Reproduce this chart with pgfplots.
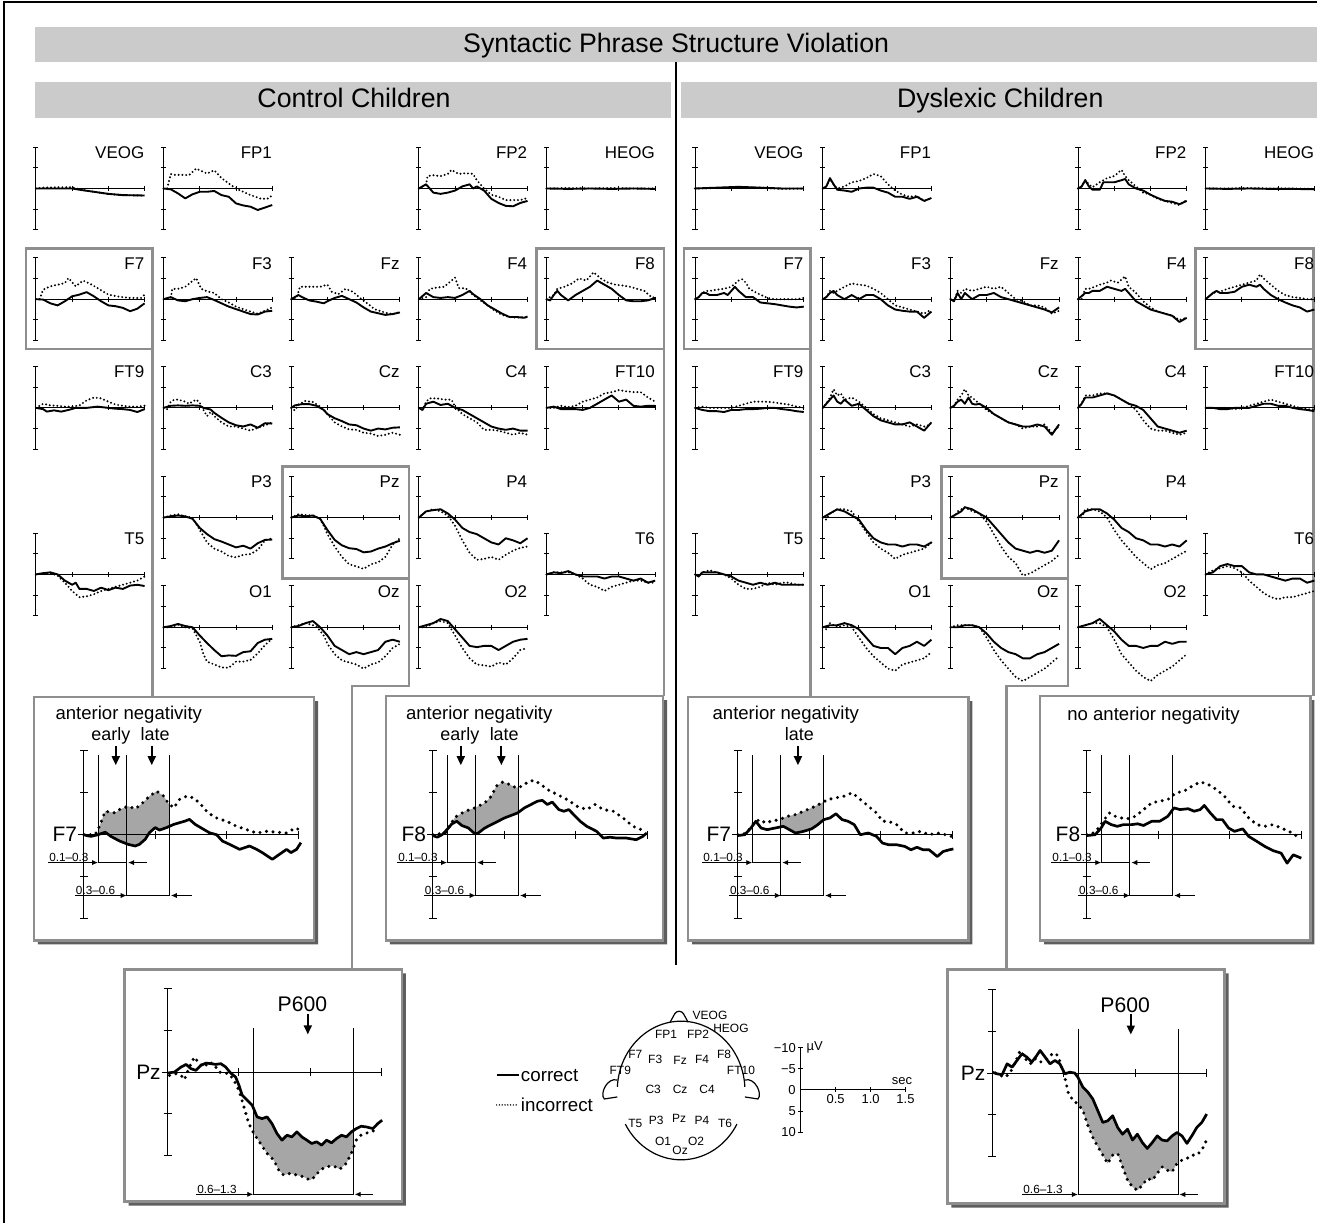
\documentclass[border=0pt]{standalone}
\usepackage{fontspec}
\setmainfont{Liberation Sans}
\usepackage{pgfplots}
\pgfplotsset{compat=1.18}
\usepgfplotslibrary{fillbetween}
\usetikzlibrary{arrows.meta}

\definecolor{boxgray}{HTML}{8E8E8E}
\definecolor{bargray}{HTML}{CBCBCB}
\definecolor{shadowgray}{HTML}{5E5E5E}
\definecolor{fillgray}{HTML}{A6A6A6}
\newcommand{\fs}[1]{\fontsize{#1}{#1}\selectfont}

\pgfplotsset{
 erp/.style={scale only axis, ymin=-10, ymax=10, y dir=reverse,
   axis lines=middle, axis line style={-, line width=0.5pt, black},
   xtick={0.5,1,1.5}, ytick={-10,-5,0,5,10}, xticklabels={}, yticklabels={},
   tick align=center, tick style={line width=0.5pt, black}, clip=false, anchor=origin},
 small/.style={erp, xmin=0, xmax=1.5, width=54.5pt, height=41.5pt, major tick length=2.6pt},
 medium/.style={erp, xmin=-0.04, xmax=1.5, width=110.3pt, height=84pt, major tick length=4pt, set layers},
 sol/.style={black, mark=none, line width=0.95pt, line join=round},
 dot/.style={black, mark=none, line width=1.1pt, line cap=round, dash pattern=on 0pt off 1.9pt},
 msol/.style={black, mark=none, line width=1.35pt, line join=round},
 mdot/.style={black, mark=none, line width=1.7pt, line cap=round, dash pattern=on 0pt off 3.3pt},
}
\tikzset{
 arr/.style={-{Latex[length=3pt,width=2.6pt]}, line width=0.45pt},
 darr/.style={-{Triangle[length=4.5pt,width=4pt]}, line width=0.9pt},
 lab/.style={anchor=south west, inner sep=0.4pt, font=\fs{5.9}},
}

\newcommand{\smallpanel}[5]{%
 \begin{axis}[small, at={(#1*0.5pt,-#2*0.5pt)}]
 \addplot[dot] coordinates {#5};
 \addplot[sol] coordinates {#4};
 \node[anchor=north east, inner sep=0pt, font=\fs{8.5}] at (axis cs:1.5,-10.2) {#3};
 \end{axis}}

\newcommand{\windows}{%
 \draw[line width=0.45pt] (axis cs:0.1,-9.5) -- (axis cs:0.1,3.33) -- (axis cs:0.3,3.33);
 \draw[line width=0.45pt] (axis cs:0.3,-9.5) -- (axis cs:0.3,7.26) -- (axis cs:0.6,7.26) -- (axis cs:0.6,-9.5);
 \draw[arr] (axis cs:-0.25,3.33) -- (axis cs:0.1,3.33);
 \node[lab] at (axis cs:-0.25,3.33) {0.1–0.3};
 \draw[arr] (axis cs:0.44,3.33) -- (axis cs:0.31,3.33);
 \draw[arr] (axis cs:-0.063,7.26) -- (axis cs:0.3,7.26);
 \node[lab] at (axis cs:-0.063,7.26) {0.3–0.6};
 \draw[arr] (axis cs:0.755,7.26) -- (axis cs:0.61,7.26);
}
\newcommand{\panelbox}[4]{%
 \fill[shadowgray] (#3,{#2+4}) -- ({#3+4},{#2+4}) -- ({#3+4},{#4+4}) -- ({#1+4},{#4+4}) -- ({#1+4},#4) -- (#3,#4) -- cycle;
 \draw[boxgray, line width=1.3pt] (#1,#2) rectangle (#3,#4);}

\begin{document}
\begin{tikzpicture}
\path (0pt,0pt) rectangle (660.5pt,-613pt);
\begin{scope}[x=0.5pt,y=-0.5pt]
 \draw[line width=1.4pt] (4,1226) -- (4,2) -- (1321,2);
 \fill[bargray] (35,27) rectangle (1321,62);
 \node[font=\fs{13.4}, anchor=base] at (678,53) {Syntactic Phrase Structure Violation};
 \fill[bargray] (35,82) rectangle (673,118);
 \node[font=\fs{13.4}, anchor=base] at (355,108) {Control Children};
 \fill[bargray] (683,82) rectangle (1321,118);
 \node[font=\fs{13.4}, anchor=base] at (1003,108) {Dyslexic Children};
 \draw[line width=1pt] (678,62) -- (678,968);
 % highlight boxes and connectors
 \draw[boxgray, line width=1.3pt] (153,699) -- (153,249) -- (26,249) -- (26,350) -- (153,350);
 \draw[boxgray, line width=1.3pt] (666,698) -- (666,249) -- (538,249) -- (538,350) -- (666,350);
 \draw[boxgray, line width=1.3pt] (283,468) rectangle (410,580);
 \draw[boxgray, line width=1.3pt] (410,580) -- (410,688) -- (353,688) -- (353,972);
 \draw[boxgray, line width=1.3pt] (813,699) -- (813,249) -- (686,249) -- (686,350) -- (813,350);
 \draw[boxgray, line width=1.3pt] (1317,698) -- (1317,249) -- (1199,249) -- (1199,350) -- (1317,350);
 \draw[boxgray, line width=1.3pt] (944,468) rectangle (1071,580);
 \draw[boxgray, line width=1.3pt] (1071,580) -- (1071,688) -- (1009,688) -- (1009,972);
 \panelbox{34}{699}{315}{943}
 \panelbox{387}{698}{665}{943}
 \panelbox{690}{699}{971}{943}
 \panelbox{1043}{698}{1314}{943}
 \panelbox{125}{972}{403}{1205}
 \panelbox{950}{972}{1228}{1207}
 % legend
 \draw[line width=0.8pt] (498,1078) -- (520,1078);
 \node[anchor=west, inner sep=1pt, font=\fs{9.4}] at (520,1078) {correct};
 \draw[line width=0.8pt, line cap=round, dash pattern=on 0pt off 1.4pt] (498,1108) -- (520,1108);
 \node[anchor=west, inner sep=1pt, font=\fs{9.4}] at (520,1108) {incorrect};
 % head
 \draw[line width=0.6pt] (683,1093.5) ++(29:64 and 69.5) arc[start angle=29, end angle=151, x radius=64, y radius=69.5];
 \draw[line width=0.6pt] (683,1093.5) ++(183:64 and 69.5) arc[start angle=183, end angle=357, x radius=64, y radius=69.5];
 \draw[line width=0.6pt, rounded corners=1.5pt] (672,1025) -- (678,1014) -- (684,1014) -- (690,1025);
 \draw[line width=0.6pt] (619,1083) .. controls (609,1080) and (601,1097) .. (606,1102) -- (619,1100);
 \draw[line width=0.6pt] (747,1083) .. controls (757,1080) and (765,1097) .. (760,1102) -- (747,1100);
 \begin{scope}[every node/.style={font=\fs{6}, inner sep=0pt}]
 \node at (712,1018) {VEOG}; \node at (733,1031) {HEOG};
 \node at (668,1037) {FP1}; \node at (700,1037) {FP2};
 \node at (637,1057) {F7}; \node at (657,1062) {F3}; \node at (682,1063) {Fz};
 \node at (704,1062) {F4}; \node at (726,1057) {F8};
 \node at (622,1073) {FT9}; \node at (743,1073) {FT10};
 \node at (655,1092) {C3}; \node at (682,1092) {Cz}; \node at (709,1092) {C4};
 \node at (637,1127) {T5}; \node at (658,1123) {P3}; \node at (681,1121) {Pz};
 \node at (704,1123) {P4}; \node at (727,1126) {T6};
 \node at (665,1145) {O1}; \node at (698,1145) {O2}; \node at (682,1154) {Oz};
 \end{scope}
\end{scope}

% ---------------- scale bar
\begin{axis}[scale only axis, at={(803*0.5pt,-1093*0.5pt)}, anchor=origin, width=52.5pt, height=42.5pt,
  xmin=0, xmax=1.5, ymin=-10, ymax=10, y dir=reverse, axis lines=middle, axis line style={-, line width=0.5pt},
  xtick={0.5,1,1.5}, xticklabels={0.5,1.0,1.5}, ytick={-10,-5,0,5,10}, yticklabels={−10,−5,0,5,10},
  tick align=center, major tick length=2.5pt, tick style={black, line width=0.5pt},
  ticklabel style={font=\fs{6.5}, inner sep=1pt}, clip=false]
\addplot[draw=none] coordinates {(0,0)};
\node[anchor=east, font=\fs{6.5}, inner sep=1pt] at (axis cs:-0.04,0) {0};
\node[anchor=west, font=\fs{6.5}, inner sep=1pt] at (axis cs:0.05,-10) {µV};
\node[anchor=south, font=\fs{6.5}, inner sep=1pt] at (axis cs:1.45,-0.8) {sec};
\end{axis}

% ---------------- Control small panels
\smallpanel{36}{189}{VEOG}{(0,0)(0.3,0)(0.5,0)(0.6,0.3)(0.8,0.8)(1.0,1.3)(1.2,1.6)(1.5,1.7)}{(0,0)(0.1,-0.2)(0.3,-0.3)(0.5,-0.3)(0.6,0.2)(0.8,0.8)(1.0,1.3)(1.2,1.6)(1.5,1.7)}
\smallpanel{164}{189}{FP1}{(0,0)(0.1,0.2)(0.2,1.2)(0.3,2.4)(0.4,1.4)(0.5,0.8)(0.6,0.8)(0.7,0.6)(0.8,1.6)(0.9,2.0)(1.0,3.6)(1.1,4.1)(1.2,4.4)(1.3,5.2)(1.4,4.6)(1.5,4.0)}{(0,0)(0.05,0)(0.1,-3.5)(0.15,-3.3)(0.25,-3.3)(0.35,-3.2)(0.45,-4.8)(0.5,-4.4)(0.6,-3.6)(0.7,-4.4)(0.8,-2.5)(0.9,-1.2)(1.0,0)(1.1,0.8)(1.2,1.6)(1.35,2.5)(1.45,2.4)(1.5,1.6)}
\smallpanel{420}{189}{FP2}{(0,0)(0.1,-1.0)(0.15,0)(0.2,1.0)(0.3,1.3)(0.4,1.0)(0.5,0.5)(0.6,-0.5)(0.7,-1.0)(0.75,0)(0.8,-0.5)(0.9,0.5)(1.0,2.5)(1.1,3.5)(1.2,4.2)(1.3,4.3)(1.4,3.5)(1.5,3.0)}{(0,0)(0.1,-1.0)(0.12,-3.0)(0.2,-3.2)(0.3,-3.0)(0.4,-3.5)(0.45,-4.5)(0.55,-3.5)(0.65,-3.7)(0.75,-3.5)(0.8,-2.0)(0.9,0)(1.0,1.5)(1.1,2.0)(1.2,2.8)(1.3,2.8)(1.4,2.8)(1.5,2.3)}
\smallpanel{548}{189}{HEOG}{(0,0)(0.3,0.1)(0.6,0)(0.9,0.1)(1.2,0)(1.5,0.1)}{(0,0)(0.3,-0.1)(0.6,0)(0.9,-0.1)(1.2,0)(1.5,0)}
\smallpanel{36}{300}{F7}{(0,0)(0.1,0.1)(0.2,1.0)(0.3,1.5)(0.4,0.5)(0.5,-0.7)(0.6,-1.1)(0.7,-1.7)(0.8,-0.7)(0.9,0.5)(1.0,1.5)(1.1,1.7)(1.2,2.1)(1.3,2.9)(1.4,2.3)(1.5,1.0)}{(0,0)(0.05,0)(0.1,-2.3)(0.2,-3.1)(0.3,-3.5)(0.4,-3.9)(0.45,-5.1)(0.55,-3.1)(0.65,-4.5)(0.75,-3.7)(0.85,-2.7)(1.0,-1.1)(1.15,-0.6)(1.3,-0.3)(1.45,-0.3)(1.5,-1.1)}
\smallpanel{164}{300}{F3}{(0,0)(0.1,-0.5)(0.2,0.3)(0.3,0.5)(0.4,0)(0.5,-0.3)(0.6,-0.5)(0.7,0.2)(0.8,1.0)(0.9,1.8)(1.0,2.4)(1.1,3.0)(1.2,3.6)(1.3,3.7)(1.4,3.0)(1.5,2.8)}{(0,0)(0.1,-0.3)(0.12,-2.5)(0.2,-2.5)(0.3,-3.0)(0.45,-5.1)(0.52,-2.5)(0.6,-1.9)(0.7,-1.5)(0.8,0)(0.9,0.8)(1.0,1.8)(1.1,2.4)(1.2,3.0)(1.3,3.5)(1.4,2.8)(1.5,2.0)}
\smallpanel{292}{300}{Fz}{(0,0)(0.1,-1.0)(0.15,-0.5)(0.25,0.3)(0.35,0.6)(0.45,1.0)(0.5,0.5)(0.6,-0.3)(0.7,-0.8)(0.8,0)(0.9,0.8)(1.0,2.0)(1.1,3.0)(1.2,3.4)(1.3,3.8)(1.4,3.6)(1.5,3.2)}{(0,0)(0.08,-0.5)(0.12,-3.0)(0.2,-3.0)(0.3,-3.0)(0.4,-3.0)(0.5,-3.5)(0.56,-1.8)(0.65,-1.2)(0.75,-2.5)(0.85,-1.8)(0.95,-0.3)(1.05,1.0)(1.15,2.4)(1.25,3.0)(1.35,3.5)(1.45,3.5)(1.5,3.0)}
\smallpanel{420}{300}{F4}{(0,0)(0.1,-1.5)(0.2,-0.5)(0.3,-0.3)(0.4,-0.5)(0.5,-0.3)(0.6,-1.0)(0.7,-2.0)(0.75,-1.2)(0.85,0)(0.95,1.5)(1.05,2.5)(1.15,3.5)(1.25,4.3)(1.35,4.3)(1.45,4.5)(1.5,4.2)}{(0,0)(0.1,-0.5)(0.15,-2.5)(0.25,-2.8)(0.35,-3.0)(0.5,-5.2)(0.55,-2.7)(0.65,-2.6)(0.75,-1.0)(0.85,0.3)(0.95,1.5)(1.05,2.8)(1.15,3.8)(1.25,4.3)(1.35,4.5)(1.45,4.3)(1.5,4.5)}
\smallpanel{548}{300}{F8}{(0,0)(0.05,0.3)(0.1,-1.0)(0.15,-2.0)(0.2,-1.0)(0.3,0.3)(0.4,-1.0)(0.5,-2.0)(0.6,-3.0)(0.7,-4.5)(0.8,-3.5)(0.9,-2.5)(1.0,-1.0)(1.1,0.3)(1.2,0.5)(1.3,0.5)(1.4,0.3)(1.5,-0.3)}{(0,0)(0.1,-1.0)(0.15,-2.5)(0.25,-3.0)(0.35,-3.8)(0.45,-5.0)(0.55,-4.5)(0.65,-6.5)(0.75,-5.0)(0.85,-4.0)(0.95,-3.5)(1.05,-3.3)(1.15,-3.0)(1.25,-2.5)(1.35,-2.0)(1.45,-0.5)(1.5,-0.3)}
\smallpanel{36}{409}{FT9}{(0,0)(0.1,0.3)(0.15,0.9)(0.25,0.6)(0.35,0.9)(0.45,0.5)(0.55,0)(0.7,0)(0.85,-0.3)(1.0,0)(1.1,0.2)(1.2,0.3)(1.3,0.5)(1.4,1.0)(1.5,0.3)}{(0,0)(0.1,-1.0)(0.2,-0.6)(0.3,-0.5)(0.4,-0.3)(0.5,-0.3)(0.6,-0.6)(0.7,-1.8)(0.8,-2.5)(0.9,-2.3)(1.0,-1.5)(1.1,-0.8)(1.2,-0.5)(1.3,-0.3)(1.4,-0.3)(1.5,-0.5)}
\smallpanel{164}{409}{C3}{(0,0)(0.1,-0.5)(0.2,-0.6)(0.3,-0.5)(0.4,-0.6)(0.5,-0.5)(0.55,0)(0.65,0.4)(0.7,1.2)(0.8,2.4)(0.9,3.5)(1.0,4.2)(1.1,4.5)(1.2,4.0)(1.3,4.8)(1.4,3.7)(1.5,3.8)}{(0,0)(0.05,0.3)(0.1,-1.5)(0.15,-2.0)(0.2,-2.0)(0.3,-1.5)(0.35,-1.0)(0.45,-2.0)(0.5,-1.2)(0.55,0.5)(0.6,2.0)(0.65,1.0)(0.7,2.0)(0.8,3.5)(0.9,4.5)(1.0,4.5)(1.1,5.0)(1.2,5.5)(1.3,4.8)(1.4,4.2)(1.5,3.5)}
\smallpanel{292}{409}{Cz}{(0,0)(0.05,-0.6)(0.15,-0.9)(0.25,-0.9)(0.35,-0.5)(0.45,0.5)(0.5,1.5)(0.6,2.5)(0.7,3.2)(0.8,4.0)(0.9,4.2)(1.0,5.0)(1.1,5.5)(1.2,5.0)(1.3,5.2)(1.4,4.8)(1.5,4.7)}{(0,0)(0.05,0.6)(0.1,-0.8)(0.2,-1.7)(0.3,-1.4)(0.4,-0.3)(0.5,1.5)(0.6,3.5)(0.7,4.5)(0.8,5.2)(0.9,5.3)(1.0,6.0)(1.1,6.2)(1.2,6.8)(1.3,6.5)(1.4,6.0)(1.5,6.5)}
\smallpanel{420}{409}{C4}{(0,0)(0.05,0.5)(0.1,-1.0)(0.2,-1.5)(0.3,-0.7)(0.4,-1.0)(0.5,0)(0.6,0.5)(0.7,1.5)(0.8,2.5)(0.9,3.5)(1.0,4.5)(1.1,5.0)(1.2,5.3)(1.3,5.0)(1.4,5.5)(1.5,5.5)}{(0,0)(0.05,0.5)(0.1,-1.5)(0.15,-2.3)(0.25,-2.3)(0.35,-2.0)(0.45,-2.0)(0.5,-0.3)(0.6,1.5)(0.7,2.5)(0.8,3.5)(0.9,5.3)(1.0,5.3)(1.1,5.5)(1.2,6.0)(1.3,6.5)(1.4,6.0)(1.5,6.5)}
\smallpanel{548}{409}{FT10}{(0,0)(0.1,-0.3)(0.2,0.3)(0.3,0.3)(0.4,0.3)(0.5,0.5)(0.6,0)(0.7,-1.0)(0.8,-2.0)(0.9,-3.0)(1.0,-1.5)(1.1,-2.0)(1.2,-0.5)(1.3,-0.3)(1.4,-0.5)(1.5,-0.5)}{(0,0)(0.1,0)(0.2,-0.5)(0.3,-0.2)(0.4,-0.5)(0.5,-1.5)(0.6,-2.0)(0.7,-2.5)(0.8,-3.5)(0.9,-3.8)(1.0,-4.3)(1.1,-4.0)(1.2,-3.8)(1.3,-3.8)(1.4,-2.5)(1.5,-1.5)}
\smallpanel{164}{519}{P3}{(0,0)(0.1,-0.3)(0.2,-0.5)(0.3,-0.3)(0.4,0.3)(0.5,2.5)(0.6,4.0)(0.7,5.2)(0.8,5.8)(0.9,6.5)(1.0,7.2)(1.1,6.8)(1.2,7.5)(1.3,6.2)(1.4,5.4)(1.5,5.3)}{(0,0)(0.1,-0.5)(0.2,-0.8)(0.3,-0.3)(0.4,0)(0.5,3.0)(0.6,6.0)(0.7,7.5)(0.8,8.2)(0.9,9.3)(1.0,9.6)(1.1,9.0)(1.2,8.8)(1.3,7.8)(1.4,5.5)(1.5,5.0)}
\smallpanel{292}{519}{Pz}{(0,0)(0.1,-0.5)(0.2,-0.3)(0.3,-0.5)(0.4,0.3)(0.5,3.0)(0.6,5.4)(0.7,6.7)(0.8,7.4)(0.9,7.6)(1.0,8.4)(1.1,8.2)(1.2,7.5)(1.3,7.0)(1.4,6.2)(1.5,5.6)}{(0,0)(0.1,-0.8)(0.2,-0.6)(0.3,-0.5)(0.4,0.3)(0.45,2.0)(0.5,4.0)(0.6,7.0)(0.7,9.5)(0.8,11.3)(0.9,11.8)(1.0,12.4)(1.1,11.3)(1.2,10.8)(1.3,9.5)(1.4,6.5)(1.5,5.0)}
\smallpanel{420}{519}{P4}{(0,0)(0.1,-1.5)(0.2,-1.8)(0.3,-2.0)(0.4,-1.0)(0.5,0.5)(0.6,2.5)(0.7,3.5)(0.8,4.0)(0.9,5.0)(1.0,6.0)(1.1,6.5)(1.2,5.0)(1.3,5.5)(1.4,6.2)(1.5,5.0)}{(0,0)(0.1,-1.5)(0.2,-2.0)(0.3,-1.5)(0.4,-0.5)(0.5,2.0)(0.6,5.5)(0.7,8.5)(0.8,10.2)(0.9,10.0)(1.0,9.5)(1.1,10.2)(1.2,9.0)(1.3,8.0)(1.4,7.3)(1.5,7.0)}
\smallpanel{36}{576}{T5}{(0,0)(0.1,-0.3)(0.2,-0.5)(0.3,0)(0.4,1.5)(0.5,2.5)(0.55,2.0)(0.6,3.5)(0.7,3.5)(0.8,4.0)(0.9,3.2)(1.0,3.8)(1.1,3.2)(1.2,3.5)(1.3,2.7)(1.4,2.5)(1.5,2.8)}{(0,0)(0.1,-0.3)(0.2,-0.3)(0.3,0.3)(0.4,2.0)(0.5,4.0)(0.6,5.5)(0.7,5.3)(0.8,4.8)(0.9,4.0)(1.0,3.5)(1.1,3.0)(1.2,2.5)(1.3,2.0)(1.4,1.5)(1.5,0.5)}
\smallpanel{548}{576}{T6}{(0,0)(0.1,-0.5)(0.2,-0.3)(0.3,-0.8)(0.4,0)(0.5,0.5)(0.6,0.5)(0.7,0.5)(0.8,1.0)(0.9,0.5)(1.0,0.5)(1.1,1.0)(1.2,1.5)(1.3,1.0)(1.4,2.0)(1.5,1.5)}{(0,0)(0.1,-0.5)(0.2,-0.5)(0.3,-0.5)(0.4,0)(0.5,1.0)(0.6,2.5)(0.7,3.0)(0.8,4.0)(0.9,3.0)(1.0,2.5)(1.1,2.0)(1.2,1.5)(1.3,1.5)(1.4,2.0)(1.5,2.0)}
\smallpanel{164}{629}{O1}{(0,0)(0.1,-0.3)(0.2,-0.8)(0.3,-0.3)(0.4,0)(0.5,2.0)(0.6,3.8)(0.7,5.5)(0.8,7.0)(0.9,6.8)(1.0,6.9)(1.1,6.0)(1.2,5.8)(1.3,3.8)(1.4,3.0)(1.5,2.8)}{(0,0)(0.1,0)(0.2,-0.6)(0.3,0)(0.4,0.3)(0.5,3.5)(0.55,6.5)(0.6,8.3)(0.7,9.0)(0.8,9.7)(0.9,9.8)(1.0,8.3)(1.1,8.3)(1.2,7.9)(1.3,6.3)(1.4,4.3)(1.5,2.7)}
\smallpanel{292}{629}{Oz}{(0,0)(0.1,-0.3)(0.2,-1.0)(0.3,-1.5)(0.4,0)(0.5,2.0)(0.6,4.5)(0.7,5.5)(0.8,6.5)(0.9,6.0)(1.0,6.5)(1.1,6.0)(1.2,5.5)(1.3,3.5)(1.4,3.0)(1.5,3.5)}{(0,0)(0.1,-0.5)(0.2,-1.0)(0.3,-0.5)(0.35,-0.2)(0.45,2.0)(0.5,4.0)(0.6,6.5)(0.7,8.0)(0.8,8.5)(0.9,9.0)(1.0,10.0)(1.1,9.0)(1.2,8.5)(1.3,7.0)(1.4,5.0)(1.5,4.0)}
\smallpanel{420}{629}{O2}{(0,0)(0.1,-0.5)(0.2,-1.0)(0.3,-2.0)(0.4,-1.5)(0.5,0.5)(0.6,2.5)(0.7,4.5)(0.8,4.8)(0.9,4.5)(1.0,4.5)(1.1,5.5)(1.2,4.5)(1.3,3.5)(1.4,3.0)(1.5,2.8)}{(0,0)(0.1,0)(0.2,-1.0)(0.3,-1.5)(0.4,-1.0)(0.5,2.0)(0.6,5.0)(0.7,7.5)(0.8,9.0)(0.9,9.2)(1.0,9.5)(1.1,8.5)(1.2,9.0)(1.3,7.5)(1.4,5.5)(1.5,5.0)}

% ---------------- Dyslexic small panels
\smallpanel{697}{189}{VEOG}{(0,0)(0.3,-0.2)(0.6,-0.4)(0.9,-0.2)(1.2,0)(1.5,0)}{(0,0)(0.3,-0.1)(0.6,-0.3)(0.9,-0.2)(1.2,0.1)(1.5,0)}
\smallpanel{825}{189}{FP1}{(0,0)(0.05,-0.5)(0.1,-2.5)(0.15,-1.0)(0.2,0.3)(0.3,0.5)(0.4,0.8)(0.5,0)(0.6,-0.2)(0.7,-0.2)(0.8,0.5)(0.9,1.0)(1.0,2.0)(1.1,2.0)(1.2,2.5)(1.3,2.0)(1.4,3.0)(1.5,2.3)}{(0,0)(0.05,-0.5)(0.1,-2.3)(0.15,-1.0)(0.2,0)(0.3,-0.5)(0.4,-1.5)(0.5,-1.8)(0.6,-2.5)(0.7,-3.5)(0.8,-3.0)(0.9,-1.0)(1.0,0.5)(1.1,1.5)(1.2,2.0)(1.3,1.8)(1.4,3.0)(1.5,2.3)}
\smallpanel{1081}{189}{FP2}{(0,0)(0.05,-0.5)(0.1,-2.0)(0.15,-0.5)(0.2,0.3)(0.3,0.3)(0.35,-1.5)(0.45,-1.5)(0.5,-1.5)(0.6,-2.0)(0.65,-2.3)(0.7,-1.0)(0.75,-0.5)(0.8,0)(0.9,0.5)(1.0,1.5)(1.1,2.3)(1.2,3.0)(1.3,3.2)(1.4,3.8)(1.5,3.0)}{(0,0)(0.05,-0.5)(0.1,-2.0)(0.15,-1.0)(0.2,-0.3)(0.3,-1.5)(0.4,-2.5)(0.5,-3.0)(0.6,-4.5)(0.65,-3.0)(0.7,-2.0)(0.8,-0.5)(0.9,1.0)(1.0,1.5)(1.1,2.5)(1.2,3.0)(1.3,3.5)(1.4,4.0)(1.5,2.8)}
\smallpanel{1209}{189}{HEOG}{(0,0)(0.3,0.1)(0.6,0)(0.9,0.1)(1.2,0.1)(1.5,0.2)}{(0,0)(0.3,0)(0.6,-0.1)(0.9,0)(1.2,0)(1.5,0.1)}
\smallpanel{697}{300}{F7}{(0,0)(0.05,-0.5)(0.1,-1.5)(0.15,-1.5)(0.2,-1.0)(0.3,-1.0)(0.4,-1.5)(0.45,-1.0)(0.5,-2.0)(0.55,-3.0)(0.6,-2.0)(0.7,-0.5)(0.8,-0.5)(0.9,0.8)(1.0,1.0)(1.1,1.2)(1.2,1.5)(1.3,1.8)(1.4,2.0)(1.5,1.8)}{(0,0)(0.05,-0.5)(0.1,-1.5)(0.15,-2.0)(0.2,-2.0)(0.3,-2.3)(0.4,-2.5)(0.5,-3.0)(0.6,-4.5)(0.65,-4.8)(0.7,-4.0)(0.75,-2.5)(0.85,-1.5)(1.0,-0.3)(1.1,0)(1.2,0)(1.3,0)(1.4,0)(1.5,-0.3)}
\smallpanel{825}{300}{F3}{(0,0)(0.05,-0.5)(0.1,-1.5)(0.15,-2.0)(0.2,-1.0)(0.3,0)(0.4,-1.0)(0.5,0)(0.6,-1.0)(0.7,-1.0)(0.8,0)(0.9,1.5)(1.0,2.5)(1.1,2.8)(1.2,3.0)(1.3,3.0)(1.4,4.5)(1.5,3.0)}{(0,0)(0.05,-0.5)(0.1,-2.0)(0.15,-1.5)(0.2,-2.0)(0.3,-3.0)(0.4,-3.8)(0.5,-3.5)(0.6,-3.3)(0.7,-2.5)(0.8,-1.5)(0.9,0)(1.0,1.5)(1.1,2.0)(1.2,2.5)(1.3,3.0)(1.4,3.5)(1.5,2.5)}
\smallpanel{953}{300}{Fz}{(0,0)(0.05,0.5)(0.1,-1.5)(0.15,0)(0.2,-1.5)(0.3,0)(0.4,-1.0)(0.5,-1.0)(0.6,-1.5)(0.7,-0.5)(0.8,0)(0.9,0.5)(1.0,1.0)(1.1,1.5)(1.2,2.0)(1.3,2.5)(1.4,3.2)(1.5,2.0)}{(0,0)(0.05,0.5)(0.1,-2.0)(0.15,-1.5)(0.2,-2.5)(0.3,-2.0)(0.4,-2.5)(0.5,-3.0)(0.6,-2.5)(0.7,-3.0)(0.8,-1.5)(0.9,0)(1.0,0.5)(1.1,1.5)(1.2,1.5)(1.3,2.0)(1.4,3.5)(1.5,2.8)}
\smallpanel{1081}{300}{F4}{(0,0)(0.1,-1.5)(0.15,-1.5)(0.2,-2.0)(0.3,-2.0)(0.4,-3.0)(0.5,-2.5)(0.6,-2.0)(0.65,-2.5)(0.7,-1.5)(0.8,0.5)(0.9,1.5)(1.0,2.5)(1.1,3.0)(1.2,3.5)(1.3,4.0)(1.4,5.5)(1.5,4.5)}{(0,0)(0.05,0)(0.1,-2.5)(0.15,-2.5)(0.2,-2.8)(0.3,-3.5)(0.4,-4.0)(0.45,-4.5)(0.55,-4.0)(0.65,-5.5)(0.7,-3.0)(0.8,-1.5)(0.9,0.5)(1.0,2.0)(1.1,3.0)(1.2,3.5)(1.3,4.0)(1.4,5.0)(1.5,4.5)}
\smallpanel{1209}{300}{F8}{(0,0)(0.1,-1.5)(0.15,-2.0)(0.2,-1.5)(0.3,-1.5)(0.4,-1.8)(0.5,-3.0)(0.6,-3.5)(0.7,-3.0)(0.75,-3.5)(0.8,-2.5)(0.9,-1.0)(1.0,0)(1.1,0.8)(1.2,1.5)(1.3,2.0)(1.4,3.0)(1.5,2.5)}{(0,0)(0.1,-1.5)(0.2,-1.8)(0.3,-2.5)(0.4,-3.0)(0.5,-3.5)(0.6,-4.0)(0.7,-4.5)(0.75,-6.0)(0.8,-5.0)(0.9,-3.5)(1.0,-2.0)(1.1,-1.0)(1.2,-0.5)(1.3,-0.3)(1.4,0)(1.5,0)}
\smallpanel{697}{409}{FT9}{(0,0)(0.1,0.5)(0.2,0.8)(0.3,0.8)(0.4,1.0)(0.5,0.5)(0.6,0.5)(0.7,0.3)(0.8,0.3)(0.9,0.2)(1.0,0)(1.1,0)(1.2,0.3)(1.3,0.5)(1.4,0.8)(1.5,1.0)}{(0,0)(0.1,-0.3)(0.2,0)(0.3,0)(0.4,0)(0.5,0)(0.6,-0.5)(0.7,-1.0)(0.8,-1.5)(0.9,-1.5)(1.0,-1.5)(1.1,-1.3)(1.2,-1.0)(1.3,-0.8)(1.4,-0.3)(1.5,0)}
\smallpanel{825}{409}{C3}{(0,0)(0.05,-1.0)(0.1,-2.0)(0.15,-3.0)(0.2,-1.5)(0.25,-1.0)(0.3,-2.0)(0.4,-0.5)(0.5,-1.0)(0.6,0.5)(0.7,2.0)(0.8,3.0)(0.9,3.5)(1.0,4.0)(1.1,4.0)(1.2,3.5)(1.3,4.5)(1.4,5.5)(1.5,3.5)}{(0,0)(0.05,-1.0)(0.1,-2.5)(0.15,-4.5)(0.2,-3.0)(0.25,-3.5)(0.3,-2.0)(0.4,-2.5)(0.5,-1.5)(0.6,0)(0.7,1.5)(0.8,2.5)(0.9,3.0)(1.0,3.5)(1.1,4.0)(1.2,4.5)(1.3,4.0)(1.4,4.5)(1.5,4.0)}
\smallpanel{953}{409}{Cz}{(0,0)(0.05,-0.5)(0.1,-1.5)(0.15,-2.0)(0.2,-1.0)(0.25,-2.5)(0.3,-1.0)(0.35,-0.8)(0.4,-1.0)(0.5,0)(0.6,1.5)(0.7,2.5)(0.8,3.5)(0.9,4.0)(1.0,4.5)(1.1,4.5)(1.2,4.0)(1.3,4.5)(1.4,6.5)(1.5,4.0)}{(0,0)(0.05,-0.5)(0.1,-2.0)(0.15,-3.0)(0.2,-4.5)(0.25,-3.0)(0.3,-2.5)(0.4,-1.0)(0.5,0.5)(0.6,1.5)(0.7,2.5)(0.8,3.5)(0.9,4.0)(1.0,5.0)(1.1,4.5)(1.2,4.5)(1.3,4.0)(1.4,6.0)(1.5,4.5)}
\smallpanel{1081}{409}{C4}{(0,0)(0.05,-1.0)(0.1,-2.5)(0.2,-2.5)(0.3,-3.0)(0.4,-3.5)(0.5,-3.0)(0.6,-2.0)(0.7,-1.0)(0.8,-0.5)(0.9,0.5)(1.0,2.5)(1.1,4.5)(1.2,5.0)(1.3,5.5)(1.4,6.0)(1.5,5.5)}{(0,0)(0.05,-1.0)(0.1,-3.0)(0.2,-3.0)(0.3,-3.5)(0.4,-3.5)(0.5,-3.0)(0.6,-2.0)(0.7,-1.0)(0.8,0.5)(0.9,3.0)(1.0,5.0)(1.1,5.5)(1.2,5.5)(1.3,6.0)(1.4,6.5)(1.5,6.0)}
\smallpanel{1209}{409}{FT10}{(0,0)(0.1,0)(0.2,0.3)(0.3,0.3)(0.4,0)(0.5,0)(0.6,0)(0.7,-0.5)(0.8,-1.0)(0.9,-1.0)(1.0,-0.5)(1.1,-0.5)(1.2,0)(1.3,0.3)(1.4,0.5)(1.5,0.8)}{(0,0)(0.1,0)(0.2,0)(0.3,0)(0.4,0.3)(0.5,0)(0.6,-0.5)(0.7,-1.0)(0.8,-1.5)(0.9,-2.0)(1.0,-1.5)(1.1,-1.0)(1.2,-0.5)(1.3,0)(1.4,0.3)(1.5,0.5)}
\smallpanel{825}{519}{P3}{(0,0)(0.05,-0.5)(0.1,-1.0)(0.15,-1.5)(0.2,-2.0)(0.3,-1.5)(0.4,-0.5)(0.5,0.5)(0.6,3.0)(0.7,5.0)(0.8,6.0)(0.9,6.5)(1.0,6.5)(1.1,7.0)(1.2,6.5)(1.3,6.5)(1.4,7.0)(1.5,6.0)}{(0,0)(0.05,0.5)(0.1,-1.0)(0.15,-1.5)(0.2,-2.0)(0.3,-2.0)(0.4,-1.5)(0.5,1.0)(0.6,3.5)(0.7,6.0)(0.8,7.5)(0.9,8.5)(1.0,10.0)(1.1,9.0)(1.2,8.5)(1.3,8.0)(1.4,7.5)(1.5,6.0)}
\smallpanel{953}{519}{Pz}{(0,0)(0.1,-1.0)(0.15,-1.5)(0.2,-2.5)(0.3,-2.0)(0.4,-1.0)(0.5,0)(0.6,2.0)(0.7,4.0)(0.8,6.0)(0.9,7.5)(1.0,8.0)(1.1,8.5)(1.2,8.0)(1.3,8.5)(1.4,8.0)(1.5,5.5)}{(0,0)(0.05,0)(0.1,-1.5)(0.15,-2.0)(0.2,-2.5)(0.3,-1.5)(0.4,-1.0)(0.5,1.0)(0.6,4.0)(0.7,7.0)(0.8,9.5)(0.9,11.0)(1.0,14.0)(1.1,13.5)(1.2,12.5)(1.3,11.5)(1.4,10.5)(1.5,9.0)}
\smallpanel{1081}{519}{P4}{(0,0)(0.1,-1.5)(0.2,-2.0)(0.3,-2.0)(0.4,-1.0)(0.5,0.5)(0.6,2.5)(0.7,3.5)(0.8,5.0)(0.9,5.5)(1.0,6.5)(1.1,6.5)(1.2,7.0)(1.3,6.5)(1.4,7.0)(1.5,5.5)}{(0,0)(0.05,0)(0.1,-2.0)(0.2,-2.0)(0.3,-1.5)(0.4,0)(0.5,3.0)(0.6,5.5)(0.7,7.5)(0.8,9.5)(0.9,11.0)(1.0,12.5)(1.1,11.5)(1.2,11.0)(1.3,10.0)(1.4,9.0)(1.5,8.0)}
\smallpanel{697}{576}{T5}{(0,0)(0.05,0.5)(0.1,-0.5)(0.2,-0.5)(0.3,-0.5)(0.4,0)(0.5,0.5)(0.6,1.5)(0.7,2.0)(0.8,2.5)(0.9,2.0)(1.0,2.5)(1.1,2.0)(1.2,2.5)(1.3,2.5)(1.4,2.5)(1.5,2.5)}{(0,0)(0.05,0.5)(0.1,-0.5)(0.2,-1.0)(0.3,-0.5)(0.4,0)(0.5,1.0)(0.6,2.5)(0.7,3.5)(0.8,3.5)(0.9,3.0)(1.0,2.0)(1.1,2.5)(1.2,2.0)(1.3,2.0)(1.4,2.5)(1.5,2.5)}
\smallpanel{1209}{576}{T6}{(0,0)(0.1,-0.5)(0.2,-2.0)(0.3,-2.5)(0.4,-2.0)(0.5,-2.0)(0.6,-0.5)(0.7,0)(0.8,0)(0.9,0.5)(1.0,1.0)(1.1,1.5)(1.2,1.0)(1.3,1.0)(1.4,2.0)(1.5,1.5)}{(0,0)(0.1,-1.0)(0.2,-1.5)(0.3,-2.0)(0.4,-1.5)(0.5,-0.5)(0.6,1.5)(0.7,3.0)(0.8,4.5)(0.9,5.5)(1.0,6.0)(1.1,5.5)(1.2,5.5)(1.3,5.0)(1.4,4.5)(1.5,4.0)}
\smallpanel{825}{629}{O1}{(0,0)(0.1,-0.5)(0.2,-0.5)(0.3,-1.0)(0.4,-0.5)(0.5,0.5)(0.6,2.5)(0.7,4.5)(0.8,5.0)(0.9,5.0)(1.0,6.5)(1.1,5.0)(1.2,4.5)(1.3,3.5)(1.4,4.5)(1.5,3.0)}{(0,0)(0.05,0.5)(0.1,-1.0)(0.2,0)(0.3,-0.5)(0.4,0)(0.5,2.5)(0.6,5.0)(0.7,7.0)(0.8,8.5)(0.9,10.0)(1.0,10.5)(1.1,9.0)(1.2,8.5)(1.3,8.0)(1.4,7.5)(1.5,6.0)}
\smallpanel{953}{629}{Oz}{(0,0)(0.1,0)(0.2,-0.5)(0.3,-0.5)(0.4,0)(0.5,1.5)(0.6,3.5)(0.7,5.0)(0.8,6.0)(0.9,6.5)(1.0,7.5)(1.1,7.5)(1.2,6.5)(1.3,6.0)(1.4,5.0)(1.5,4.0)}{(0,0)(0.1,-0.5)(0.2,-0.5)(0.3,-0.5)(0.4,0)(0.5,2.5)(0.6,5.5)(0.7,8.0)(0.8,10.0)(0.9,12.0)(1.0,13.0)(1.1,12.0)(1.2,11.0)(1.3,10.0)(1.4,8.5)(1.5,7.0)}
\smallpanel{1081}{629}{O2}{(0,0)(0.1,-0.5)(0.2,-1.0)(0.3,-2.0)(0.4,-0.5)(0.5,1.0)(0.6,3.0)(0.7,4.5)(0.8,4.5)(0.9,5.0)(1.0,4.5)(1.1,4.5)(1.2,3.5)(1.3,4.0)(1.4,3.5)(1.5,3.5)}{(0,0)(0.1,-0.5)(0.2,-1.0)(0.3,-1.0)(0.4,0)(0.5,3.0)(0.6,6.5)(0.7,8.5)(0.8,10.5)(0.9,12.0)(1.0,13.0)(1.1,11.5)(1.2,10.5)(1.3,9.5)(1.4,8.0)(1.5,6.5)}

% ---------------- Medium: Control F7
\begin{axis}[medium, at={(84*0.5pt,-837*0.5pt)}]
\addplot[mdot, name path=D] coordinates {(0,0)(0.03,0)(0.08,0)(0.11,-1.0)(0.15,-2.8)(0.22,-2.6)(0.25,-3.0)(0.31,-3.4)(0.36,-3.1)(0.40,-3.6)(0.46,-4.6)(0.51,-5.2)(0.56,-4.6)(0.59,-3.8)(0.63,-3.2)(0.67,-4.2)(0.72,-4.6)(0.77,-4.4)(0.82,-3.6)(0.87,-2.6)(0.93,-2.0)(1.0,-1.6)(1.07,-1.0)(1.14,-0.6)(1.21,-0.2)(1.28,-0.4)(1.35,-0.3)(1.42,-0.2)(1.48,-0.8)(1.51,-0.6)};
\addplot[msol, name path=S] coordinates {(0,0)(0.02,0.1)(0.05,0.2)(0.1,0)(0.15,-0.3)(0.19,0.2)(0.25,0.75)(0.31,1.15)(0.36,1.35)(0.39,1.15)(0.43,0.55)(0.46,-0.25)(0.5,-0.85)(0.53,-0.55)(0.58,-0.85)(0.63,-1.23)(0.67,-1.43)(0.71,-1.63)(0.74,-1.83)(0.78,-1.23)(0.82,-0.83)(0.88,-0.23)(0.93,0)(0.97,0.75)(1.02,1.15)(1.09,1.75)(1.16,1.35)(1.21,1.75)(1.25,2.14)(1.32,2.94)(1.37,2.34)(1.42,1.75)(1.45,2.14)(1.49,1.75)(1.52,0.95)};
\addplot[fillgray] fill between[of=D and S, soft clip={domain=0.1:0.6}, on layer=axis background];
\windows
\node[anchor=east, inner sep=0pt, font=\fs{10.5}] at (axis cs:-0.045,0) {F7};
\node[anchor=base west, inner sep=0pt, font=\fs{9.3}] at (axis cs:-0.2,-13.7) {anterior negativity};
\node[anchor=base, inner sep=0pt, font=\fs{9}] at (axis cs:0.19,-11.2) {early};
\node[anchor=base, inner sep=0pt, font=\fs{9}] at (axis cs:0.5,-11.2) {late};
\draw[darr] (axis cs:0.224,-10.6) -- (axis cs:0.224,-8.3);
\draw[darr] (axis cs:0.476,-10.6) -- (axis cs:0.476,-8.3);
\end{axis}

% ---------------- Medium: Control F8
\begin{axis}[medium, at={(434*0.5pt,-837*0.5pt)}]
\addplot[mdot, name path=D] coordinates {(0,0)(0.088,-0.2)(0.122,-1.2)(0.157,-2.1)(0.226,-2.8)(0.295,-3.2)(0.364,-3.8)(0.41,-4.6)(0.445,-5.8)(0.491,-6.3)(0.537,-6.0)(0.583,-5.6)(0.629,-5.8)(0.664,-6.3)(0.71,-6.5)(0.756,-6.0)(0.802,-5.4)(0.871,-4.8)(0.94,-4.2)(1.009,-3.4)(1.078,-3.0)(1.136,-3.6)(1.194,-3.0)(1.263,-2.8)(1.332,-2.0)(1.401,-1.0)(1.459,-0.6)(1.493,-0.4)};
\addplot[msol, name path=S] coordinates {(0,0.1)(0.03,0.3)(0.065,0)(0.099,-0.6)(0.134,-1.3)(0.168,-1.6)(0.203,-1.1)(0.249,-0.8)(0.295,-0.1)(0.318,-0.2)(0.364,-0.8)(0.41,-1.2)(0.456,-1.6)(0.502,-2.0)(0.548,-2.3)(0.594,-2.6)(0.641,-3.2)(0.687,-3.6)(0.733,-4.0)(0.767,-4.1)(0.802,-3.6)(0.836,-3.9)(0.882,-3.0)(0.917,-2.8)(0.952,-3.0)(0.986,-2.4)(1.032,-1.6)(1.078,-1.0)(1.147,-0.4)(1.194,0.4)(1.24,0.3)(1.286,0.4)(1.355,0.4)(1.424,0.6)(1.47,0.2)(1.498,-0.2)};
\addplot[fillgray] fill between[of=D and S, soft clip={domain=0.1:0.6}, on layer=axis background];
\windows
\node[anchor=east, inner sep=0pt, font=\fs{10.5}] at (axis cs:-0.045,0) {F8};
\node[anchor=base west, inner sep=0pt, font=\fs{9.3}] at (axis cs:-0.19,-13.7) {anterior negativity};
\node[anchor=base, inner sep=0pt, font=\fs{9}] at (axis cs:0.19,-11.2) {early};
\node[anchor=base, inner sep=0pt, font=\fs{9}] at (axis cs:0.5,-11.2) {late};
\draw[darr] (axis cs:0.196,-10.6) -- (axis cs:0.196,-8.3);
\draw[darr] (axis cs:0.48,-10.6) -- (axis cs:0.48,-8.3);
\end{axis}

% ---------------- Medium: Dyslexic F7
\begin{axis}[medium, at={(740*0.5pt,-837*0.5pt)}]
\addplot[mdot, name path=D] coordinates {(0,0)(0.034,0)(0.077,-0.6)(0.119,-1.6)(0.162,-1.8)(0.19,-1.4)(0.232,-1.6)(0.289,-1.8)(0.346,-2.2)(0.403,-2.4)(0.459,-2.8)(0.516,-3.2)(0.587,-3.8)(0.629,-4.2)(0.686,-4.4)(0.743,-4.6)(0.8,-5.0)(0.842,-4.4)(0.885,-3.8)(0.927,-3.2)(0.97,-2.6)(1.012,-1.6)(1.055,-1.6)(1.111,-1.2)(1.168,-0.2)(1.225,-0.2)(1.282,-0.4)(1.338,0)(1.395,-0.2)(1.452,0)(1.494,0.2)};
\addplot[msol, name path=S] coordinates {(0,0.1)(0.048,0)(0.091,-0.8)(0.125,-1.6)(0.162,-0.8)(0.204,-0.6)(0.261,-0.8)(0.318,-1.0)(0.36,-0.6)(0.403,-0.2)(0.459,-0.4)(0.516,-0.7)(0.559,-1.2)(0.601,-1.8)(0.644,-2.0)(0.686,-2.5)(0.729,-1.8)(0.771,-1.6)(0.814,-1.2)(0.856,0)(0.913,-0.2)(0.97,0.2)(1.012,1.0)(1.055,1.2)(1.111,1.2)(1.168,1.4)(1.211,1.8)(1.253,1.5)(1.296,1.8)(1.338,1.8)(1.395,2.6)(1.437,2.0)(1.48,1.8)(1.508,1.7)};
\addplot[fillgray] fill between[of=D and S, soft clip={domain=0.3:0.6}, on layer=axis background];
\windows
\node[anchor=east, inner sep=0pt, font=\fs{10.5}] at (axis cs:-0.045,0) {F7};
\node[anchor=base west, inner sep=0pt, font=\fs{9.3}] at (axis cs:-0.18,-13.7) {anterior negativity};
\node[anchor=base, inner sep=0pt, font=\fs{9}] at (axis cs:0.43,-11.2) {late};
\draw[darr] (axis cs:0.42,-10.6) -- (axis cs:0.42,-8.3);
\end{axis}

% ---------------- Medium: Dyslexic F8
\begin{axis}[medium, at={(1090*0.5pt,-837*0.5pt)}]
\addplot[mdot] coordinates {(0,0)(0.028,0)(0.071,-0.6)(0.113,-1.6)(0.156,-2.6)(0.198,-2.2)(0.241,-2.0)(0.283,-1.9)(0.34,-2.2)(0.396,-3.0)(0.453,-3.8)(0.509,-4.0)(0.566,-4.2)(0.623,-5.0)(0.679,-5.2)(0.736,-5.8)(0.793,-6.3)(0.849,-6.0)(0.906,-5.4)(0.962,-4.6)(1.019,-3.4)(1.076,-3.2)(1.132,-2.0)(1.189,-1.2)(1.245,-1.0)(1.302,-1.2)(1.359,-0.8)(1.415,-0.4)(1.472,0.2)(1.5,0)};
\addplot[msol] coordinates {(0,0.1)(0.057,0)(0.099,-0.8)(0.127,-1.6)(0.17,-1.2)(0.212,-1.0)(0.255,-1.2)(0.311,-1.2)(0.354,-1.3)(0.396,-1.1)(0.453,-1.6)(0.509,-1.6)(0.566,-2.2)(0.609,-3.2)(0.651,-3.0)(0.708,-3.1)(0.75,-2.8)(0.793,-3.0)(0.821,-3.5)(0.863,-2.6)(0.906,-1.8)(0.948,-1.8)(0.991,-0.8)(1.033,-0.4)(1.09,-0.7)(1.132,0.2)(1.189,0.8)(1.245,1.4)(1.302,1.9)(1.359,2.2)(1.401,3.4)(1.444,2.4)(1.5,2.8)};
\windows
\node[anchor=east, inner sep=0pt, font=\fs{10.5}] at (axis cs:-0.045,0) {F8};
\node[anchor=base west, inner sep=0pt, font=\fs{9.3}] at (axis cs:-0.14,-13.6) {no anterior negativity};
\end{axis}

% ---------------- Large: Control Pz
\begin{axis}[medium, at={(168*0.5pt,-1075*0.5pt)}]
\addplot[mdot, name path=D] coordinates {(0.014,0.4)(0.06,0.2)(0.095,0.4)(0.118,0.91)(0.153,-0.6)(0.188,-1.79)(0.222,-1.0)(0.257,-0.6)(0.292,-1.19)(0.326,-0.91)(0.361,0)(0.396,0.12)(0.431,0.2)(0.465,0.99)(0.5,2.18)(0.535,4.17)(0.569,6.15)(0.604,7.34)(0.65,8.53)(0.697,9.72)(0.743,10.5)(0.778,11.7)(0.812,12.3)(0.859,12.1)(0.905,12.3)(0.951,12.5)(0.998,12.9)(1.032,12.5)(1.067,11.7)(1.113,11.3)(1.16,11.2)(1.206,11.6)(1.252,10.9)(1.287,9.7)(1.322,8.1)(1.356,7.5)(1.391,7.3)(1.426,7.1)(1.461,6.9)};
\addplot[msol, name path=S] coordinates {(0,0.12)(0.049,0)(0.095,-0.6)(0.13,-0.91)(0.164,-0.4)(0.199,-0.2)(0.234,-0.8)(0.269,-1.07)(0.303,-1.0)(0.338,-0.91)(0.373,-1.0)(0.407,-0.6)(0.442,0.12)(0.477,0.6)(0.5,1.59)(0.523,2.78)(0.558,3.37)(0.593,3.97)(0.627,5.36)(0.662,5.56)(0.697,5.36)(0.731,6.15)(0.766,7.34)(0.801,8.13)(0.836,7.54)(0.87,7.74)(0.905,7.14)(0.94,7.74)(0.975,8.13)(1.009,8.53)(1.044,8.33)(1.079,8.73)(1.113,8.13)(1.148,8.45)(1.183,7.94)(1.218,7.54)(1.252,7.74)(1.287,7.14)(1.322,6.75)(1.356,6.47)(1.391,6.55)(1.438,6.75)(1.472,6.15)(1.502,5.75)};
\addplot[fillgray] fill between[of=D and S, soft clip={domain=0.6:1.3}, on layer=axis background];
\draw[line width=0.45pt] (axis cs:0.6,-5.2) -- (axis cs:0.6,14.6) -- (axis cs:1.3,14.6) -- (axis cs:1.3,-5.2);
\draw[arr] (axis cs:0.2,14.6) -- (axis cs:0.6,14.6);
\node[lab] at (axis cs:0.2,14.6) {0.6–1.3};
\draw[arr] (axis cs:1.44,14.6) -- (axis cs:1.31,14.6);
\node[anchor=east, inner sep=0pt, font=\fs{10.5}] at (axis cs:-0.045,0) {Pz};
\node[inner sep=0pt, font=\fs{10.6}] at (axis cs:0.944,-8.1) {P600};
\draw[darr] (axis cs:0.982,-6.9) -- (axis cs:0.982,-4.5);
\end{axis}

% ---------------- Large: Dyslexic Pz
\begin{axis}[medium, at={(995*0.5pt,-1076*0.5pt)}]
\addplot[mdot, name path=D] coordinates {(0.023,0)(0.058,0.3)(0.092,0.5)(0.127,-0.1)(0.162,-1.3)(0.196,-2.7)(0.231,-1.7)(0.266,-1.1)(0.3,-1.7)(0.335,-1.3)(0.37,-1.5)(0.404,-2.1)(0.439,-2.4)(0.462,-2.0)(0.485,-0.7)(0.508,0.5)(0.531,2.3)(0.566,3.3)(0.6,3.7)(0.635,4.5)(0.67,6.3)(0.704,7.7)(0.739,8.8)(0.774,9.8)(0.808,10.8)(0.843,9.8)(0.878,9.6)(0.912,11.2)(0.947,12.8)(0.982,13.6)(1.016,14.0)(1.051,13.4)(1.085,12.6)(1.12,12.8)(1.155,12.0)(1.189,11.2)(1.224,11.6)(1.259,11.8)(1.293,10.8)(1.328,10.4)(1.363,10.2)(1.397,9.8)(1.432,9.8)(1.467,9.2)(1.501,8.0)};
\addplot[msol, name path=S] coordinates {(0,-0.1)(0.035,0.1)(0.069,0.2)(0.104,-1.1)(0.139,-0.7)(0.173,-1.5)(0.208,-2.3)(0.242,-1.9)(0.277,-1.3)(0.312,-2.1)(0.335,-2.7)(0.37,-1.9)(0.404,-1.1)(0.439,-1.5)(0.473,-1.1)(0.508,0.1)(0.543,-0.1)(0.577,0)(0.6,0.5)(0.635,1.7)(0.67,2.3)(0.704,3.1)(0.739,4.5)(0.774,5.9)(0.808,5.7)(0.843,5.1)(0.878,6.5)(0.912,7.3)(0.947,6.7)(0.982,8.0)(1.016,7.3)(1.051,8.3)(1.085,9.0)(1.12,8.3)(1.155,7.5)(1.189,8.0)(1.224,8.1)(1.259,7.5)(1.293,7.1)(1.328,7.5)(1.363,8.4)(1.397,7.5)(1.432,6.5)(1.467,5.9)(1.501,4.9)};
\addplot[fillgray] fill between[of=D and S, soft clip={domain=0.6:1.3}, on layer=axis background];
\draw[line width=0.45pt] (axis cs:0.6,-5.3) -- (axis cs:0.6,14.5) -- (axis cs:1.3,14.5) -- (axis cs:1.3,-5.3);
\draw[arr] (axis cs:0.21,14.5) -- (axis cs:0.6,14.5);
\node[lab] at (axis cs:0.21,14.5) {0.6–1.3};
\draw[arr] (axis cs:1.44,14.5) -- (axis cs:1.31,14.5);
\node[anchor=east, inner sep=0pt, font=\fs{10.5}] at (axis cs:-0.045,0) {Pz};
\node[inner sep=0pt, font=\fs{10.6}] at (axis cs:0.93,-8.1) {P600};
\draw[darr] (axis cs:0.97,-7.0) -- (axis cs:0.97,-4.6);
\end{axis}
\end{tikzpicture}
\end{document}
